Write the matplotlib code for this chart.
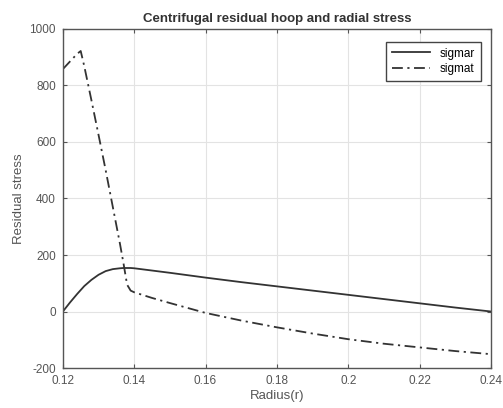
import numpy as np
import matplotlib
matplotlib.use("Agg")
import matplotlib.pyplot as plt

plt.rcParams['font.family'] = ['Liberation Sans', 'DejaVu Sans']
plt.rcParams['axes.unicode_minus'] = False

# radius values (m)
radius = [0.120, 0.122, 0.124, 0.125, 0.126, 0.128, 0.130, 0.132, 0.134, 0.136,
          0.137, 0.138, 0.139, 0.140, 0.145, 0.150, 0.160, 0.170, 0.180, 0.190,
          0.200, 0.210, 0.220, 0.230, 0.240]
# radial residual stress
sigmar = [0, 32, 62, 76, 90, 112, 130, 143, 150, 153,
          154, 154, 154, 153, 145, 137, 120, 104, 89, 74,
          59, 44, 29, 14, 0]
# hoop residual stress
sigmat = [858, 885, 912, 922, 868, 748, 625, 500, 370, 240,
          170, 95, 74, 68, 48, 30, -5, -32, -56, -78,
          -98, -114, -127, -140, -151]

fig = plt.figure(figsize=(5.03, 4.08), dpi=100)
ax = fig.add_axes([0.125, 0.098, 0.851, 0.831])

ax.plot(radius, sigmar, color='#333333', lw=1.3, ls='-', label='sigmar')
ax.plot(radius, sigmat, color='#333333', lw=1.3, ls=(0, (6, 2.5, 1.2, 2.5)), label='sigmat')

ax.set_xlim(0.12, 0.24)
ax.set_ylim(-200, 1000)
ax.set_xticks([0.12, 0.14, 0.16, 0.18, 0.2, 0.22, 0.24])
ax.set_xticklabels(['0.12', '0.14', '0.16', '0.18', '0.2', '0.22', '0.24'])
ax.set_yticks([-200, 0, 200, 400, 600, 800, 1000])

ax.grid(True, color='#e3e3e3', lw=0.8)
ax.set_axisbelow(True)
ax.tick_params(direction='in', top=True, right=True, labelsize=8.5,
               colors='#555555', length=3, pad=5)
for s in ax.spines.values():
    s.set_color('#555555')
    s.set_linewidth(1.0)

ax.set_title('Centrifugal residual hoop and radial stress', fontsize=9.5,
             fontweight='bold', color='#333333', pad=5)
ax.set_xlabel('Radius(r)', fontsize=9.5, color='#555555', labelpad=2)
ax.set_ylabel('Residual stress', fontsize=9.5, color='#555555', labelpad=3)

leg = ax.legend(loc='upper right', fontsize=8.5, fancybox=False, framealpha=1,
                edgecolor='#444444', handlelength=3.2, borderpad=0.5,
                labelspacing=0.3, bbox_to_anchor=(0.99, 0.98))
leg.get_frame().set_linewidth(1.0)

fig.savefig('out.png', dpi=100)
